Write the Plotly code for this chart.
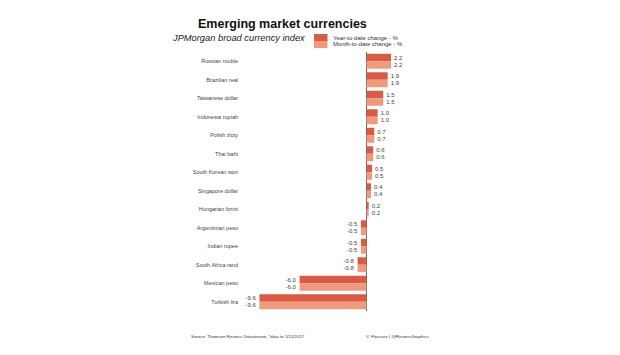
import plotly.graph_objects as go

categories = ["Russian rouble", "Brazilian real", "Taiwanese dollar", "Indonesia rupiah",
              "Polish zloty", "Thai baht", "South Korean won", "Singapore dollar",
              "Hungarian forint", "Argentinian peso", "Indian rupee", "South Africa rand",
              "Mexican peso", "Turkish lira"]
ytd = [2.2, 1.9, 1.5, 1.0, 0.7, 0.6, 0.5, 0.4, 0.2, -0.5, -0.5, -0.8, -6.0, -9.6]
mtd = [2.2, 1.9, 1.5, 1.0, 0.7, 0.6, 0.5, 0.4, 0.2, -0.5, -0.5, -0.8, -6.0, -9.6]
series_names = ["Year-to-date change - %", "Month-to-date change - %"]

W, H = 620, 355
L, R, T, B = 242, 200, 52, 44
PW, PH = W - L - R, H - T - B
DARK = "#dc5a44"
LIGHT = "#f09a7c"
FONT = "Liberation Sans, Arial, sans-serif"

def px(x):
    return (x - L) / PW

def py(y):
    return 1 - (y - T) / PH

fig = go.Figure()
for name, vals, col in [(series_names[0], ytd, DARK), (series_names[1], mtd, LIGHT)]:
    fig.add_trace(go.Bar(
        y=categories, x=vals, orientation="h", name=name,
        marker=dict(color=col, line=dict(width=0)),
        text=[f"{v:.1f}" for v in vals], textposition="outside",
        textfont=dict(size=6, color="#444", family=FONT),
        cliponaxis=False,
    ))

fig.update_layout(
    width=W, height=H, margin=dict(l=L, r=R, t=T, b=B, autoexpand=False),
    barmode="group", bargap=0.19, bargroupgap=0,
    plot_bgcolor="white", paper_bgcolor="white",
    showlegend=False,
    font=dict(family=FONT, color="#333"),
    xaxis=dict(range=[(L - 366.5) / 11.15, (W - R - 366.5) / 11.15],
               showgrid=False, showticklabels=False, zeroline=True,
               zerolinecolor="#666", zerolinewidth=1, ticks="", automargin=False),
    yaxis=dict(autorange="reversed", showgrid=False, zeroline=False, automargin=False,
               tickfont=dict(size=5.5, color="#444", family=FONT), ticks="",
               ticklabelstandoff=3),
)

ann = []
def note(text, x, y, size, color="#333"):
    ann.append(dict(text=text, x=px(x), y=py(y), xref="paper", yref="paper",
                    xanchor="left", yanchor="middle", showarrow=False,
                    font=dict(size=size, color=color, family=FONT)))

note("<b>Emerging market currencies</b>", 196, 24, 12.5, "#111")
note("<i>JPMorgan broad currency index</i>", 170, 38, 9.3, "#222")
for i, (nm, col) in enumerate(zip(series_names, [DARK, LIGHT])):
    y0 = 34 + i * 7
    fig.add_shape(type="rect", xref="paper", yref="paper",
                  x0=px(314), x1=px(327.5), y0=py(y0), y1=py(y0 + 7),
                  fillcolor=col, line=dict(width=0))
    note(nm, 331, y0 + 3.5, 6)
note("Source: Thomson Reuters Datastream, *data to 1/11/2017", 189, 336, 4.4)
note("V. Flasseur | @ReutersGraphics", 364, 336, 4.4)
fig.update_layout(annotations=ann)

fig.write_html("out.html", config={"displayModeBar": False},
               post_script="document.body.style.margin='0';document.body.style.overflow='hidden';")
